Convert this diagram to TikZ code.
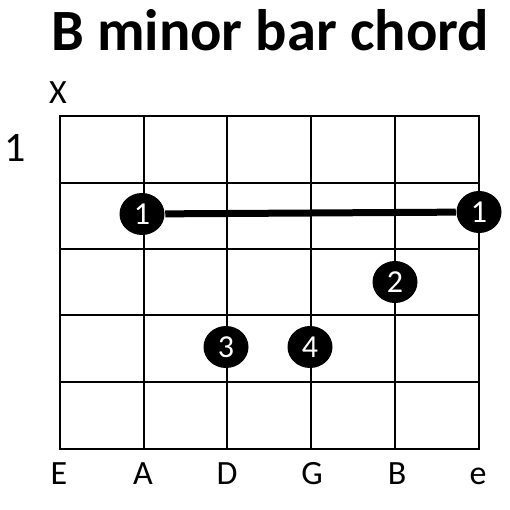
\documentclass[tikz,border=0pt]{standalone}
\usepackage{fontspec}
\setmainfont{Carlito}
\usetikzlibrary{shapes.geometric}
\begin{document}
\begin{tikzpicture}[x=1pt,y=-1pt,line width=1.5pt,
    inner sep=0pt,
    fret/.style={line width=1.5pt},
    finger/.style={ellipse,fill=black,text=white,minimum width=45pt,
      minimum height=42pt,font=\fontsize{32}{32}\selectfont},
    strname/.style={font=\fontsize{34}{34}\selectfont}]
    \path[use as bounding box] (0,0) rectangle (510,510);
    \node[font=\fontsize{58.5}{58.5}\selectfont\bfseries] (title) at (270,30) {B minor bar chord};
    \node[strname] (mute) at (58,93) {X};
    \node[font=\fontsize{42}{42}\selectfont] (fretno) at (15,148) {1};
    % strings and frets
    \foreach \x in {144,227,311,395} {\draw[fret] (\x,116) -- (\x,449);}
    \foreach \y in {183,249,315,382} {\draw[fret] (60,\y) -- (479,\y);}
    \draw[line width=2.5pt] (60,116) rectangle (479,449);
    \foreach \x/\s in {59/E,143/A,227/D,312/G,397/B,478/e}
      {\node[strname,anchor=base] (str\s) at (\x,484) {\s};}
    % fingers
    \node[finger] (barL) at (142,214) {1};
    \node[finger] (barR) at (479,212) {1};
    \draw[line width=7pt] (barL) -- (barR);
    \node[finger] (two) at (395,282) {2};
    \node[finger] (three) at (226,347) {3};
    \node[finger] (four) at (310,347) {4};
  \end{tikzpicture}
\end{document}
